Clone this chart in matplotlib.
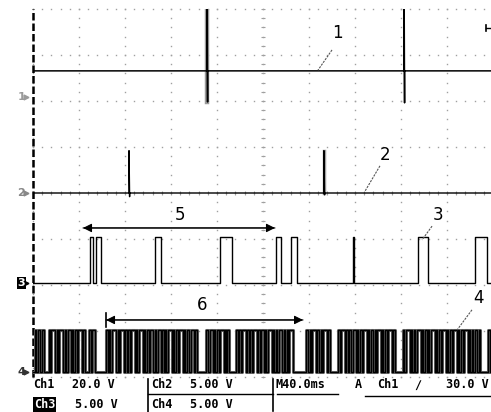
import numpy as np
import matplotlib
matplotlib.use("Agg")
import matplotlib.pyplot as plt
from matplotlib.lines import Line2D

# scope settings: 40 ms/div, 10 x 8 divisions
time_per_div = 40.0
volts_per_div = {"ch1": 20.0, "ch2": 5.0, "ch3": 5.0, "ch4": 5.0}
ground_div = {"ch1": 2.09, "ch2": 0.0, "ch3": -1.96, "ch4": -3.89}
trigger_level = 30.0  # V on ch1

# ch1: supply level with two spikes (clipped at the top)
ch1_level = 11.3
ch1_spike_t = [151.3, 322.6]
ch1_spike_hi = [60.0, 60.0]
ch1_spike_lo = [-2.2, -2.6]

# ch2: short positive pulses
ch2_spike_t = [83.5, 253.0]
ch2_spike_hi = [4.6, 4.6]
ch2_spike_lo = [-0.4, -0.2]

# ch3: logic signal, high intervals (ms)
ch3_high = 5.0
ch3_rise = [49.6, 55.2, 106.1, 162.6, 211.3, 224.3, 278.3, 334.8, 384.3]
ch3_fall = [52.2, 58.7, 111.3, 173.0, 215.7, 229.6, 279.1, 343.5, 394.8]

# ch4: fast data bursts, high intervals (ms)
ch4_high = 4.6
ch4_pulses = [
    (1.5, 3), (4.5, 6.5), (8, 9.5),
    (13.5, 14.5), (16, 19.5), (21, 22), (23, 26.5), (27.5, 28.5), (30, 33),
    (34, 35), (36.5, 38), (39, 42.5), (43.5, 45.5),
    (48.5, 50), (51.5, 53.5),
    (63.5, 65), (66, 67), (68.5, 72), (73.5, 74.5), (76, 79), (80, 81.5),
    (82.5, 84), (85.5, 88.5), (89.5, 90.5), (92, 95.5), (96.5, 97.5),
    (99, 100.5), (101.5, 104.5), (106, 107), (108.5, 111), (112, 113.5),
    (115, 116), (117.5, 121), (122, 123), (124.5, 126), (127, 130.5),
    (131.5, 132.5), (134, 135.5), (137, 140), (141, 142.5),
    (150.5, 152), (153.5, 156.5), (157.5, 158.5), (160, 161.5), (163, 166),
    (167, 168), (169, 170.5),
    (176.5, 178.5), (179.5, 180.5), (182, 185), (186.5, 187.5), (189, 190.5),
    (191.5, 195), (196, 197), (198.5, 200.5), (201.5, 202.5), (204, 207.5),
    (208.5, 209.5), (211, 212.5), (213.5, 216.5), (218, 219), (220.5, 222),
    (223, 226.5),
    (237.5, 239.5), (240.5, 241.5), (243, 246), (247, 248.5), (250, 251),
    (252.5, 255.5), (256.5, 258),
    (265.5, 267), (268, 271.5), (272.5, 273.5), (275, 276.5), (278, 281),
    (282, 283), (284.5, 286), (287, 290.5), (291.5, 292.5), (294, 296),
    (297, 298), (299.5, 302.5), (303.5, 304.5), (306, 307.5), (309, 312),
    (313, 314.5),
    (321.5, 323), (324.5, 327.5), (328.5, 329.5), (331, 332.5), (334, 337),
    (338, 339), (340.5, 342.5), (343.5, 344.5), (346, 349.5), (350.5, 351.5),
    (353, 354.5), (356, 359), (360, 361), (362.5, 364), (365, 368.5),
    (369.5, 370.5), (372, 373.5), (375, 378), (379, 380), (381.5, 383),
    (384, 386.5), (387.5, 388.5),
    (395.5, 397), (398, 399.5),
]

# measurement arrows (ms)
arrow5 = (43.5, 210.4)
arrow6 = (63.5, 234.8)

W, H = 491, 412
fig = plt.figure(figsize=(W / 100, H / 100), dpi=100)
fig.patch.set_facecolor("white")


def box(x0, y0, x1, y1):
    return [x0 / W, 1 - y1 / H, (x1 - x0) / W, (y1 - y0) / H]


ax = fig.add_axes(box(33, 9, 493, 377))
ax.set_xlim(0, 10 * time_per_div)
ax.set_ylim(-4, 4)
ax.axis("off")


def to_div(ch, v):
    return ground_div[ch] + np.asarray(v, dtype=float) / volts_per_div[ch]


def spikes(t_list, base, hi_list, lo_list, width=0.5):
    t, v = [0.0], [base]
    for t0, hi, lo in zip(t_list, hi_list, lo_list):
        t += [t0, t0, t0 + width, t0 + width]
        v += [base, hi, lo, base]
    t.append(400.0)
    v.append(base)
    return np.array(t), np.array(v)


def square(rises, falls, high):
    t, v = [0.0], [0.0]
    for r, f in zip(rises, falls):
        t += [r, r, f, f]
        v += [0.0, high, high, 0.0]
    t.append(400.0)
    v.append(0.0)
    return np.array(t), np.array(v)


# graticule
grid_col = "#a0a0a0"
xs = np.arange(0, 400.1, 8)
ys = np.arange(-4, 4.01, 0.2)
for j in range(-4, 5):
    ax.plot(xs, np.full_like(xs, j), ls="none", marker="s", ms=1.0,
            mec="none", mfc=grid_col, clip_on=False)
for k in range(0, 11):
    ax.plot(np.full_like(ys, k * time_per_div), ys, ls="none", marker="s",
            ms=1.0, mec="none", mfc=grid_col, clip_on=False)
ax.plot(np.full_like(ys, 200), ys, ls="none", marker="_", ms=3.5, mew=0.8,
        color=grid_col)
ax.plot(xs, np.zeros_like(xs), ls="none", marker="|", ms=3.5, mew=0.8,
        color=grid_col)
ax.plot([0.4, 0.4], [-4, 4], color="black", lw=1.8, ls=(0, (3, 1.2)),
        clip_on=False)

# traces
t1, v1 = spikes(ch1_spike_t, ch1_level, ch1_spike_hi, ch1_spike_lo)
ax.plot([ch1_spike_t[0]] * 2, to_div("ch1", [ch1_spike_hi[0], ch1_spike_lo[0]]),
        color="#9a9a9a", lw=3.2)
ax.plot(t1, to_div("ch1", v1), color="black", lw=1.1)

t2, v2 = spikes(ch2_spike_t, 0.0, ch2_spike_hi, ch2_spike_lo)
ax.plot([ch2_spike_t[1]] * 2, to_div("ch2", [0, ch2_spike_hi[1]]),
        color="#a0a0a0", lw=2.5)
ax.plot(t2, to_div("ch2", v2), color="black", lw=1.0)

t3, v3 = square(ch3_rise, ch3_fall, ch3_high)
ax.plot(t3, to_div("ch3", v3), color="black", lw=1.0)

t4, v4 = square([p[0] for p in ch4_pulses], [p[1] for p in ch4_pulses],
                ch4_high)
ax.plot(t4, to_div("ch4", v4), color="#6a6a6a", lw=2.2)
ax.plot(t4, to_div("ch4", v4), color="black", lw=1.0)

# channel ground markers left of the screen
for ch, label, col, boxed in [("ch1", "1", "#9a9a9a", False),
                              ("ch2", "2", "#888888", False),
                              ("ch3", "3", "white", True),
                              ("ch4", "4", "#333333", False)]:
    kw = dict(bbox=dict(facecolor="black", edgecolor="none", pad=0.6)) if boxed else {}
    ax.text(-7, ground_div[ch], label, ha="right", va="center", fontsize=8,
            color=col, fontweight="bold", clip_on=False, **kw)
    ax.plot([-6], [ground_div[ch]], marker=">", ms=3.5,
            color="black" if boxed else col, clip_on=False)

# trigger level marker on the right edge
trig_y = to_div("ch1", trigger_level)
ax.plot([393.5, 398.5], [trig_y, trig_y], color="black", lw=1.0)
ax.plot([393.5, 393.5], [trig_y - 0.06, trig_y + 0.06], color="black", lw=1.2)

# measurement arrows
arrow_kw = dict(arrowstyle="-|>", color="black", lw=0.8, mutation_scale=13,
                shrinkA=0, shrinkB=0)
for (a, b), yv in [(arrow5, -0.76), (arrow6, -2.76)]:
    ax.annotate("", xy=(a, yv), xytext=(b, yv), arrowprops=arrow_kw)
    ax.annotate("", xy=(b, yv), xytext=(a, yv), arrowprops=arrow_kw)
ax.plot([arrow6[0]] * 2, [-2.6, -2.92], color="black", lw=1.2)
ax.text(127.8, -0.48, "5", ha="center", va="center", fontsize=12)
ax.text(147.0, -2.43, "6", ha="center", va="center", fontsize=12)

# callouts
callouts = [("1", (264.3, 3.48), (260.0, 3.11), (247.8, 2.67)),
            ("2", (306.0, 0.83), (301.7, 0.59), (288.7, 0.04)),
            ("3", (352.2, -0.48), (347.0, -0.72), (338.3, -1.02)),
            ("4", (387.0, -2.28), (381.7, -2.54), (368.7, -2.98))]
for label, pos, start, end in callouts:
    ax.text(*pos, label, ha="center", va="center", fontsize=12)
    ax.plot([start[0], end[0]], [start[1], end[1]], color="#555555", lw=0.8,
            ls=(0, (2, 1)))

# status bar
mono = "DejaVu Sans Mono"


def status(x, y, s, **kw):
    fig.text(x / W, 1 - y / H, s, ha="left", va="center", family=mono,
             fontsize=8.5, fontweight="bold", **kw)


def hline(x0, x1, y, lw=1.0):
    fig.add_artist(Line2D([x0 / W, x1 / W], [1 - y / H, 1 - y / H],
                          color="black", lw=lw, transform=fig.transFigure))


def vline(x, y0, y1, lw=1.2):
    fig.add_artist(Line2D([x / W, x / W], [1 - y0 / H, 1 - y1 / H],
                          color="black", lw=lw, transform=fig.transFigure))


status(33, 385, "Ch1")
status(72, 385, "20.0 V")
status(151, 385, "Ch2")
status(190, 385, "5.00 V")
status(275, 385, "M40.0ms")
status(355, 385, "A")
status(377, 385, "Ch1")
status(414, 385, "\u2215")
status(446, 385, "30.0 V")
status(34, 405, "Ch3", color="white",
       bbox=dict(facecolor="black", edgecolor="none", pad=0.8))
status(75, 405, "5.00 V")
status(151, 405, "Ch4")
status(190, 405, "5.00 V")

vline(148, 379, 412)
vline(273, 379, 411)
hline(148, 273, 394)
hline(277, 338, 394)
hline(365, 491, 396)

fig.savefig("out.png", dpi=100)
